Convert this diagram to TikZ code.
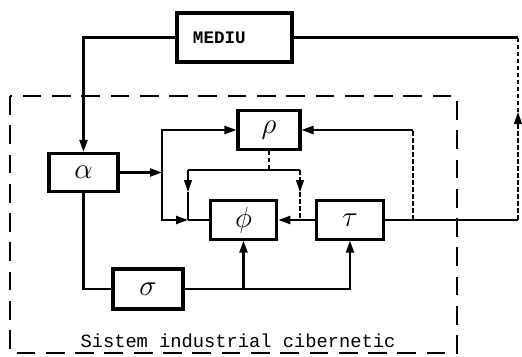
\documentclass[tikz,border=0pt]{standalone}
\usepackage{fontspec}
\usetikzlibrary{positioning,arrows.meta,calc}
\newfontfamily\tyfont{Liberation Mono}

\begin{document}
\begin{tikzpicture}[x=0.03cm, y=-0.03cm,
  blk/.style={draw, line width=2.6pt, minimum width=2cm, minimum height=1.15cm, inner sep=0pt, font=\fontsize{26}{28}\selectfont},
  ln/.style={line width=2pt},
  arr/.style={ln, -{Triangle[length=3.6mm, width=2.4mm]}},
  info/.style={line width=1pt, dash pattern=on 4pt off 2pt},
  infoarr/.style={info, -{Triangle[length=3.6mm, width=2.4mm]}},
  frame/.style={line width=1.3pt, dash pattern=on 16pt off 9pt}
]
\useasboundingbox (0,0) rectangle (522,356);

% system boundary
\draw[frame] (10,96) rectangle (457,353);
\node[font=\tyfont\fontsize{16}{18}\selectfont] (title) at (238,341) {Sistem industrial cibernetic};

% blocks
\node[blk, minimum width=3.45cm, minimum height=1.47cm, text width=2.49cm, inner xsep=0.48cm, align=left,
      font=\tyfont\bfseries\fontsize{15}{17}\selectfont] (mediu) at (234.5,37.5) {MEDIU};
\node[blk, minimum width=2.07cm] (alpha) at (83.5,172.5) {$\alpha$};
\node[blk, minimum width=1.86cm] (rho) at (269,130) {$\rho$};
\node[blk] (phi) at (243.5,220) {$\phi$};
\node[blk] (tau) at (350,220) {$\tau$};
\node[blk, minimum width=2.1cm, minimum height=1.2cm] (sigma) at (148,289) {$\sigma$};

% junctions
\coordinate (j1) at (162,172.5);
\coordinate (j2) at (188,220);
\coordinate (rl) at (188,170);
\coordinate (rr) at (300,170);
\coordinate (tl) at (188,192);
\coordinate (tr) at (300,192);
\coordinate (fb) at (413,220);
\coordinate (rt) at (518,220);
\coordinate (ra) at (518,112);

% environment loop
\draw[arr] (mediu.west) -| (alpha.north);
\draw[ln] (mediu.east) -- (mediu.east -| rt);
\draw[info] (mediu.east -| rt) -- (ra);
\draw[infoarr] (rt) -- (ra);
\draw[ln] (tau.east) -- (rt);

% main flow
\draw[arr] (alpha.east) -- (j1);
\draw[arr] (j1) |- (rho.west);
\draw[arr] (j1) |- (j2);
\draw[ln] (j2) -- (phi.west);
\draw[arr] (tau.west) -- (phi.east);
\draw[ln] (alpha.south) |- (sigma.west);
\draw[arr] (sigma.east) -| (tau.south);
\draw[arr] (sigma.east -| phi.south) -- (phi.south);

% rho outputs
\draw[info] (rho.south) -- (rho.south |- rl);
\draw[line width=1pt] (rl) -- (rr);
\draw[line width=1pt, -{Triangle[length=3.6mm, width=2.4mm]}] (rl) -- (tl);
\draw[line width=1pt] (tl) -- (j2);
\draw[infoarr] (rr) -- (tr);
\draw[info] (tr) -- (rr |- tau.west);

% feedback to rho
\draw[info] (fb) -- (fb |- rho.east);
\draw[arr] (fb |- rho.east) -- (rho.east);
\end{tikzpicture}
\end{document}
